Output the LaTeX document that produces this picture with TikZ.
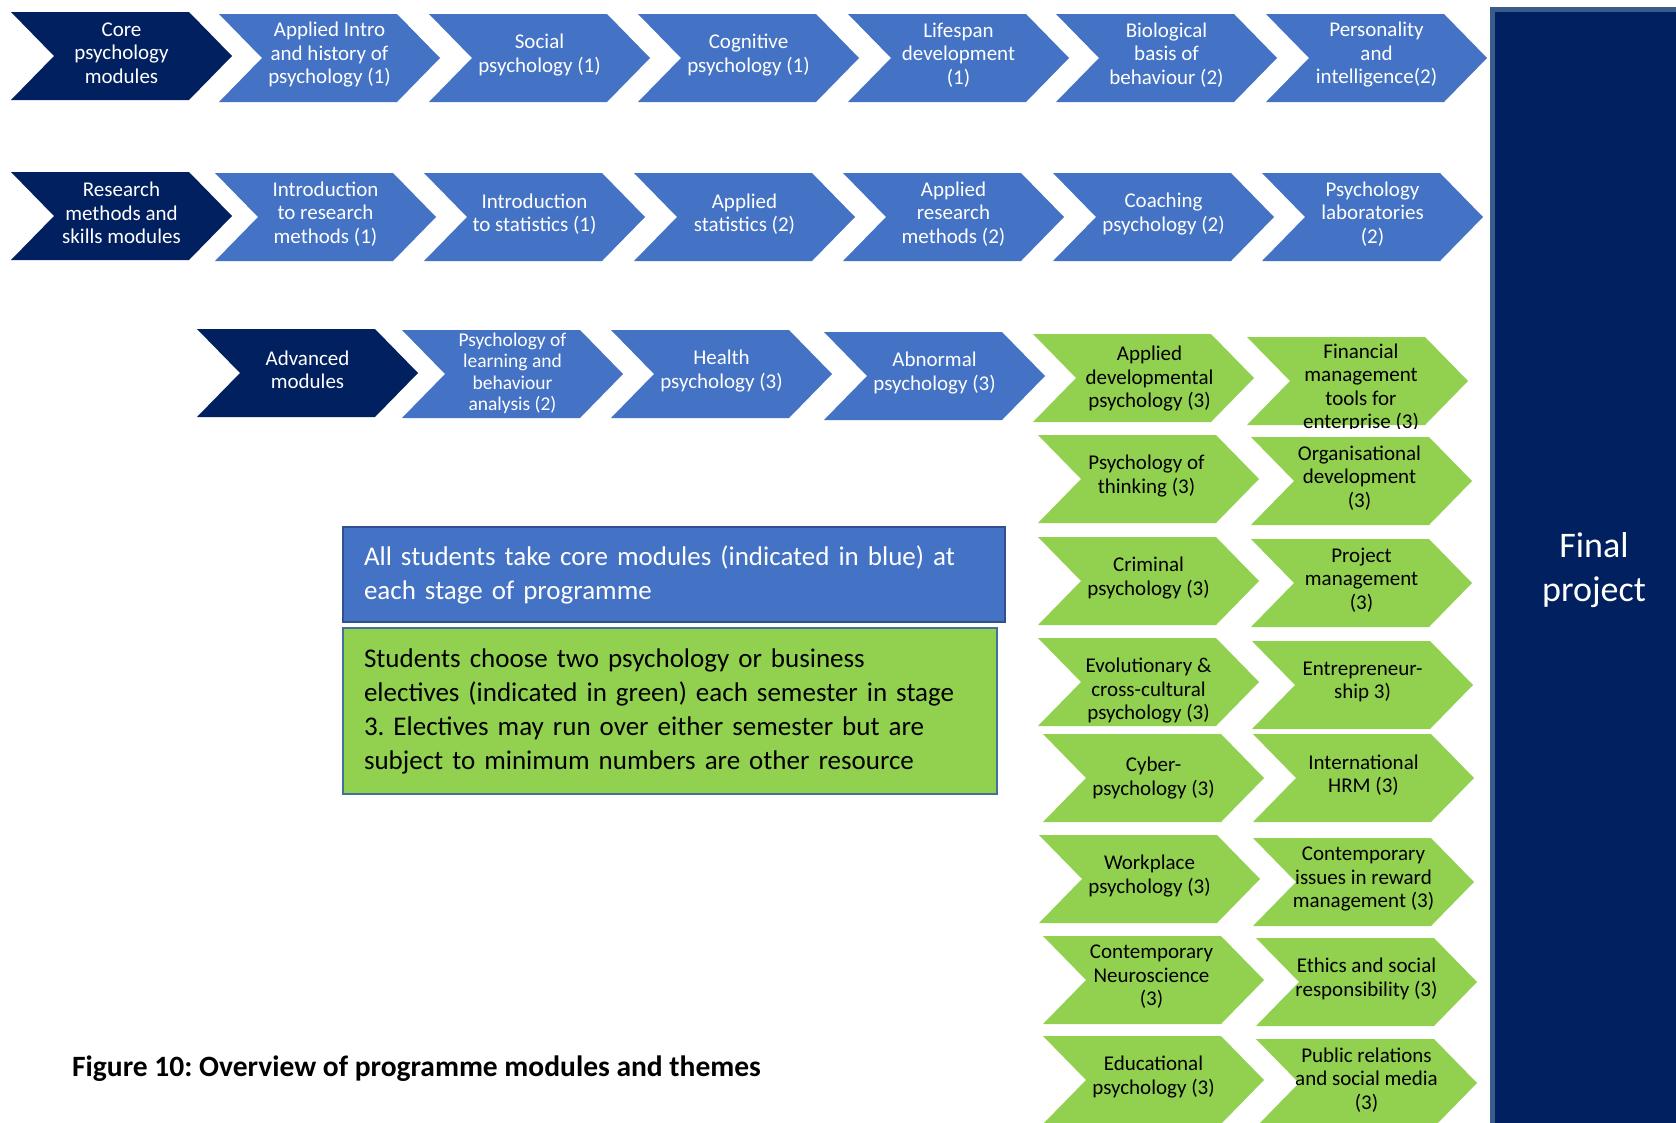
\documentclass[tikz,border=0pt]{standalone}
\usepackage{fontspec}
\setmainfont{Carlito}
\frenchspacing
\definecolor{navyc}{HTML}{002060}
\definecolor{midblue}{HTML}{4472C4}
\definecolor{greenc}{HTML}{92D050}
\definecolor{fpborder}{HTML}{385D8A}
\definecolor{bborder}{HTML}{2F528F}
\definecolor{gborder}{HTML}{41719C}
\tikzset{
  navyfill/.style={fill=navyc},
  bluefill/.style={fill=midblue},
  greenfill/.style={fill=greenc},
  wtxt/.style={text=white, align=center, font=\fontsize{21}{23.5}\selectfont, inner sep=0pt},
  wsmall/.style={text=white, align=center, font=\fontsize{19.5}{21.5}\selectfont, inner sep=0pt},
  btxt/.style={text=black, align=center, font=\fontsize{21}{23.5}\selectfont, inner sep=0pt},
  notebox/.style={line width=2pt, align=left, inner xsep=21pt, inner ysep=0pt, font=\fontsize{27}{34}\selectfont},
}
% [#1 extra text options], #2 name, #3 left x, #4 top y, #5 fill style, #6 text style, #7 text
\newcommand\mkchev[7][]{%
  \fill[#5] (#3,#4) -- ++(178,0) -- ++(43,44) -- ++(-43,44) -- ++(-178,0) -- ++(43,-44) -- cycle;
  \node[#6,#1] (#2) at ({#3+110.5},{#4+41}) {#7};}
\newcommand\mkshape[3]{%
  \fill[#3] (#1,#2) -- ++(178,0) -- ++(43,44) -- ++(-43,44) -- ++(-178,0) -- ++(43,-44) -- cycle;}
\begin{document}
\begin{tikzpicture}[x=1pt,y=-1pt]
\path[use as bounding box] (0,0) rectangle (1676,1122);
\clip (0,0) rectangle (1676,1122);
\fill[white] (0,0) rectangle (1676,1122);

% Row 1
\mkchev{r1a}{11}{12}{navyfill}{wtxt}{Core\\psychology\\modules}
\mkchev{r1b}{219}{14}{bluefill}{wtxt}{Applied Intro\\and history of\\psychology (1)}
\mkchev{r1c}{429}{14}{bluefill}{wtxt}{Social\\psychology (1)}
\mkchev{r1d}{638}{14}{bluefill}{wtxt}{Cognitive\\psychology (1)}
\mkchev{r1e}{848}{14}{bluefill}{wtxt}{Lifespan\\development\\(1)}
\mkchev{r1f}{1056}{14}{bluefill}{wtxt}{Biological\\basis of\\behaviour (2)}
\mkchev{r1g}{1266}{14}{bluefill}{wtxt}{Personality\\and\\intelligence(2)}

% Row 2
\mkchev{r2a}{11}{172}{navyfill}{wtxt}{Research\\methods and\\skills modules}
\mkchev{r2b}{215}{173}{bluefill}{wtxt}{Introduction\\to research\\methods (1)}
\mkchev{r2c}{424}{173}{bluefill}{wtxt}{Introduction\\to statistics (1)}
\mkchev{r2d}{634}{173}{bluefill}{wtxt}{Applied\\statistics (2)}
\mkchev{r2e}{843}{173}{bluefill}{wtxt}{Applied\\research\\methods (2)}
\mkchev{r2f}{1053}{173}{bluefill}{wtxt}{Coaching\\psychology (2)}
\mkchev{r2g}{1262}{173}{bluefill}{wtxt}{Psychology\\laboratories\\(2)}

% Row 3
\mkchev{r3a}{197}{329}{navyfill}{wtxt}{Advanced\\modules}
\mkchev[yshift=-2.5pt]{r3b}{402}{330}{bluefill}{wsmall}{Psychology of\\learning and\\behaviour\\analysis (2)}
\mkchev{r3c}{611}{330}{bluefill}{wtxt}{Health\\psychology (3)}
\mkchev{r3d}{824}{332}{bluefill}{wtxt}{Abnormal\\psychology (3)}

% Green column 1
\mkchev[xshift=6pt,yshift=-4pt]{g1a}{1033}{334}{greenfill}{btxt}{Applied\\developmental\\psychology (3)}
\mkchev[xshift=-2pt]{g1b}{1038}{435}{greenfill}{btxt}{Psychology of\\thinking (3)}
\mkchev{g1c}{1038}{537}{greenfill}{btxt}{Criminal\\psychology (3)}
\mkchev[yshift=-12pt]{g1d}{1038}{638}{greenfill}{btxt}{Evolutionary \&\\cross-cultural\\psychology (3)}
\mkchev[yshift=-3pt]{g1e}{1043}{734}{greenfill}{btxt}{Cyber-\\psychology (3)}
\mkchev{g1f}{1039}{835}{greenfill}{btxt}{Workplace\\psychology (3)}
\mkchev[xshift=-2pt]{g1g}{1043}{936}{greenfill}{btxt}{Contemporary\\Neuroscience\\(3)}
\mkchev{g1h}{1043}{1036}{greenfill}{btxt}{Educational\\psychology (3)}

% Green column 2
\mkshape{1247}{337}{greenfill}
\begin{scope}
\clip (1200,330) rectangle (1480,428);
\node[btxt] (g2a) at (1361,388) {Financial\\management\\tools for\\enterprise (3)};
\end{scope}
\mkchev[xshift=-2pt]{g2b}{1251}{437}{greenfill}{btxt}{Organisational\\development\\(3)}
\mkchev{g2c}{1251}{539}{greenfill}{btxt}{Project\\management\\(3)}
\mkchev{g2d}{1252}{641}{greenfill}{btxt}{Entrepreneur-\\ship 3)}
\mkchev{g2e}{1253}{734}{greenfill}{btxt}{International\\HRM (3)}
\mkchev{g2f}{1253}{838}{greenfill}{btxt}{Contemporary\\issues in reward\\management (3)}
\mkchev{g2g}{1256}{938}{greenfill}{btxt}{Ethics and social\\responsibility (3)}
\mkchev{g2h}{1256}{1039}{greenfill}{btxt}{Public relations\\and social media\\(3)}

% Final project
\draw[line width=5pt, draw=fpborder, fill=navyc] (1492.5,9.5) rectangle (1700,1150);
\node[text=white, align=center, font=\fontsize{36}{44}\selectfont, inner sep=0pt] (fp) at (1594,570) {Final\\project};

% Notes
\node[notebox, draw=bborder, fill=midblue, text=white, text width=620pt, minimum height=95pt] (note1) at (674,574.5)
  {All students take core modules (indicated in blue) at\\each stage of programme};
\node[notebox, draw=gborder, fill=greenc, text=black, text width=612pt, minimum height=166pt] (note2) at (670,711)
  {Students choose two psychology or business\\electives (indicated in green) each semester in stage\\3. Electives may run over either semester but are\\subject to minimum numbers are other resource};

% Caption
\node[anchor=west, inner sep=0pt, font=\fontsize{29.5}{34}\selectfont\bfseries] (cap) at (72,1069)
  {Figure 10: Overview of programme modules and themes};
\end{tikzpicture}
\end{document}
